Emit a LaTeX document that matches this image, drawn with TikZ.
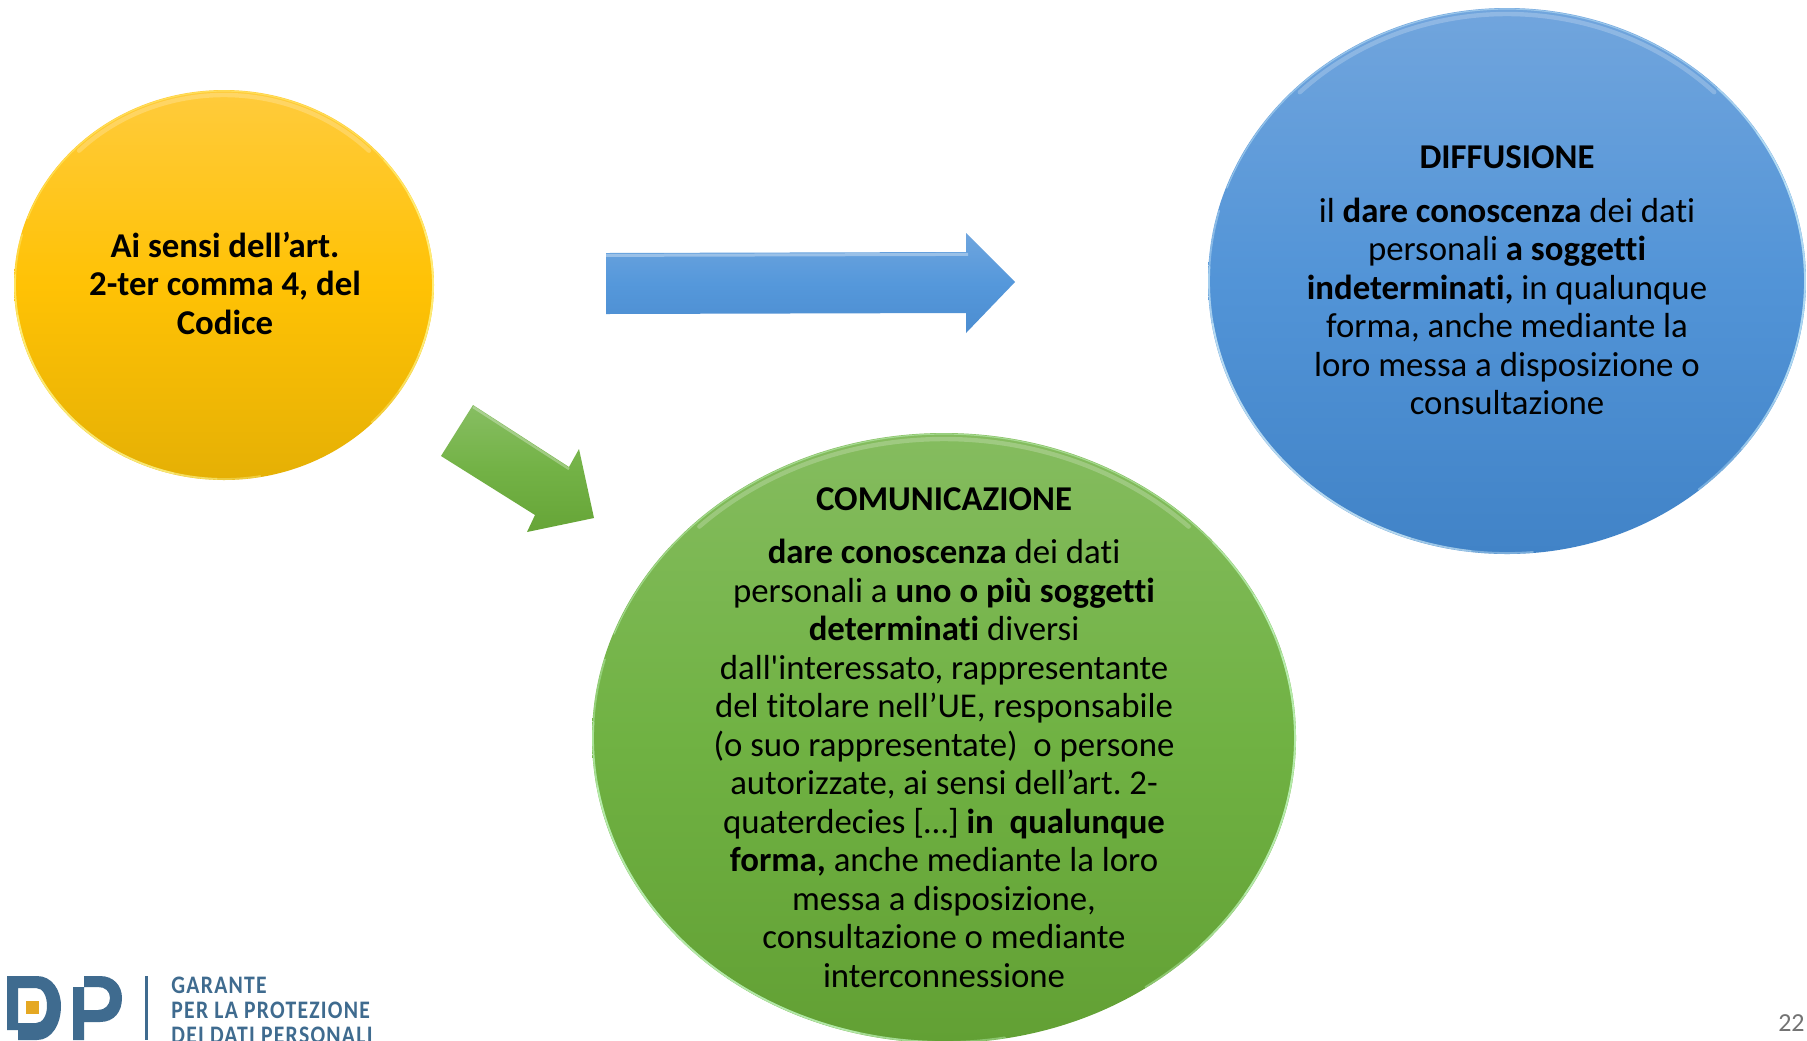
\documentclass[tikz,border=0pt]{standalone}
\usepackage{fontspec}
\setmainfont{Carlito}[Ligatures={NoCommon,TeXOff}]
\newfontfamily\logofont{Carlito}[FakeStretch=0.86,LetterSpace=5]
\usetikzlibrary{shapes.geometric}
\definecolor{logoblue}{HTML}{3F6B8F}
\definecolor{logoorange}{HTML}{E5A823}
\newcommand{\myrim}[8]{% cx cy rx ry start end colour options
  \draw[#7,line cap=round,#8] plot[domain=#5:#6,samples=70,smooth] ({#1+#3*cos(\x)},{#2+#4*sin(\x)});}
\newcommand{\myedge}[7]{% fading edge: three arcs of shrinking span
  \pgfmathsetmacro{\sa}{#5+12}\pgfmathsetmacro{\ea}{#6-12}
  \pgfmathsetmacro{\sb}{#5+24}\pgfmathsetmacro{\eb}{#6-24}
  \myrim{#1}{#2}{#3}{#4}{#5}{#6}{#7}{edge}
  \myrim{#1}{#2}{#3}{#4}{\sa}{\ea}{#7}{edge}
  \myrim{#1}{#2}{#3}{#4}{\sb}{\eb}{#7}{edge}}
\tikzset{
  x=0.5pt,y=-0.5pt,
  disc/.style={ellipse,inner sep=0pt,outer sep=0pt},
  body/.style={align=center,font=\frenchspacing\fontsize{17.4}{19.25}\selectfont,text=black,inner sep=0pt},
  band/.style={line width=2.2pt,opacity=0.22},
  edge/.style={line width=0.9pt,opacity=0.38},
  fine/.style={line width=0.6pt,opacity=0.45},
  logotext/.style={font=\logofont\bfseries\fontsize{12.6}{12.5}\selectfont,text=logoblue,inner sep=0pt,anchor=base west},
}
\begin{document}
\begin{tikzpicture}
\useasboundingbox (0,0) rectangle (1807,1040);
\fill[white] (0,0) rectangle (1807,1040);

% yellow disc
\node[disc,minimum width=210pt,minimum height=195pt,
  top color={rgb,255:red,255;green,203;blue,60},bottom color={rgb,255:red,229;green,176;blue,5},middle color={rgb,255:red,255;green,194;blue,5}] (yd) at (224,285) {};
\myrim{224}{285}{205}{190}{225}{315}{white}{band}
\myedge{224}{285}{209}{194}{80}{195}{yellow!40!white}
\myedge{224}{285}{209}{194}{-40}{45}{yellow!40!white}
\myrim{224}{285}{209}{194}{200}{340}{yellow!50!white}{fine}

% blue disc
\node[disc,minimum width=299pt,minimum height=273pt,
  top color={rgb,255:red,113;green,165;blue,221},bottom color={rgb,255:red,65;green,131;blue,199},middle color={rgb,255:red,82;green,148;blue,215}] (bd) at (1507,281) {};
\myrim{1507}{281}{293}{267}{225}{315}{white}{band}
\myedge{1507}{281}{298}{272}{85}{195}{cyan!15!white}
\myedge{1507}{281}{298}{272}{-45}{50}{cyan!20!white}
\myrim{1507}{281}{298}{272}{200}{340}{cyan!20!white}{fine}

% green disc
\node[disc,minimum width=352pt,minimum height=305pt,
  top color={rgb,255:red,133;green,188;blue,95},bottom color={rgb,255:red,98;green,160;blue,52},middle color={rgb,255:red,112;green,178;blue,67}] (gd) at (944,738) {};
\myrim{944}{738}{346}{299}{225}{315}{white}{band}
\myedge{944}{738}{351}{304}{80}{195}{green!20!white}
\myedge{944}{738}{351}{304}{-40}{55}{green!20!white}
\myrim{944}{738}{351}{304}{200}{340}{green!20!white}{fine}

% blue arrow
\coordinate (a1) at (606,253); \coordinate (a2) at (966,252); \coordinate (a3) at (966,233);
\coordinate (a4) at (1015,282); \coordinate (a5) at (966,333); \coordinate (a6) at (966,313); \coordinate (a7) at (606,314);
\path[top color={rgb,255:red,110;green,165;blue,222},bottom color={rgb,255:red,76;green,141;blue,208},middle color={rgb,255:red,85;green,152;blue,219}]
  (a1) -- (a2) -- (a3) -- (a4) -- (a5) -- (a6) -- (a7) -- cycle;
\draw[white,opacity=0.35,line width=1.5pt] ([yshift=-1.2pt]a1) -- ([yshift=-1.2pt,xshift=1pt]a2);

% green arrow
\coordinate (g1) at (473,405); \coordinate (g2) at (569,467); \coordinate (g3) at (579,449);
\coordinate (g4) at (594,518); \coordinate (g5) at (527,532); \coordinate (g6) at (535,515); \coordinate (g7) at (441,456);
\path[top color={rgb,255:red,135;green,190;blue,98},bottom color={rgb,255:red,102;green,165;blue,55},middle color={rgb,255:red,115;green,178;blue,70}]
  (g1) -- (g2) -- (g3) -- (g4) -- (g5) -- (g6) -- (g7) -- cycle;
\draw[white,opacity=0.3,line width=1.2pt] ([yshift=-1pt]g1) -- ([yshift=-1pt]g2);

% texts
\node[body] (yt) at (225,283) {\textbf{Ai sensi dell’art.}\\\textbf{2-ter comma 4, del}\\\textbf{Codice}};
\node[body] (bt) at (1507,157) {\textbf{DIFFUSIONE}};
\node[body] (bb) at (1507,306.5) {il \textbf{dare conoscenza} dei dati\\personali \textbf{a soggetti}\\\textbf{indeterminati,} in qualunque\\forma, anche mediante la\\loro messa a disposizione o\\consultazione};
\node[body] (gt) at (944,499) {\textbf{COMUNICAZIONE}};
\node[body] (gb) at (944,763.5) {\textbf{dare conoscenza} dei dati\\personali a \textbf{uno o più soggetti}\\\textbf{determinati} diversi\\dall'interessato, rappresentante\\del titolare nell’UE, responsabile\\(o suo rappresentate)\ \ o persone\\autorizzate, ai sensi dell’art. 2-\\quaterdecies […] \textbf{in\ \ qualunque}\\\textbf{forma,} anche mediante la loro\\messa a disposizione,\\consultazione o mediante\\interconnessione};

% logo
\fill[logoblue,even odd rule]
  (7,976) -- (37,976) .. controls (52,976) and (61,990) .. (61,1006) .. controls (61,1024) and (52,1040) .. (37,1040) -- (18,1040) -- (18,1030) -- (7,1030) -- cycle
  (18,988) -- (18,1023) -- (36,1023) .. controls (43,1023) and (47,1015) .. (47,1006) .. controls (47,996) and (43,988) .. (36,988) -- cycle;
\fill[logoorange] (26,1001) rectangle (39,1014);
\fill[logoblue,even odd rule]
  (73,987) -- (84,987) -- (84,976) -- (100,976) .. controls (114,976) and (122,986) .. (122,998) .. controls (122,1012) and (114,1022) .. (100,1022) -- (84,1022) -- (84,1040) -- (73,1040) -- cycle
  (84,987) -- (84,1010) -- (98,1010) .. controls (105,1010) and (110,1005) .. (110,998) .. controls (110,991) and (105,987) .. (98,987) -- cycle;
\fill[logoblue] (145,976) rectangle (148,1040);
\node[logotext] (l1) at (171,993) {GARANTE};
\node[logotext] (l2) at (171,1018) {PER LA PROTEZIONE};
\node[logotext] (l3) at (171,1043) {DEI DATI PERSONALI};

% page number
\node[font=\fontsize{13}{13}\selectfont,text=black!55,inner sep=0pt,anchor=base east] (pn) at (1805,1031) {22};
\end{tikzpicture}
\end{document}
